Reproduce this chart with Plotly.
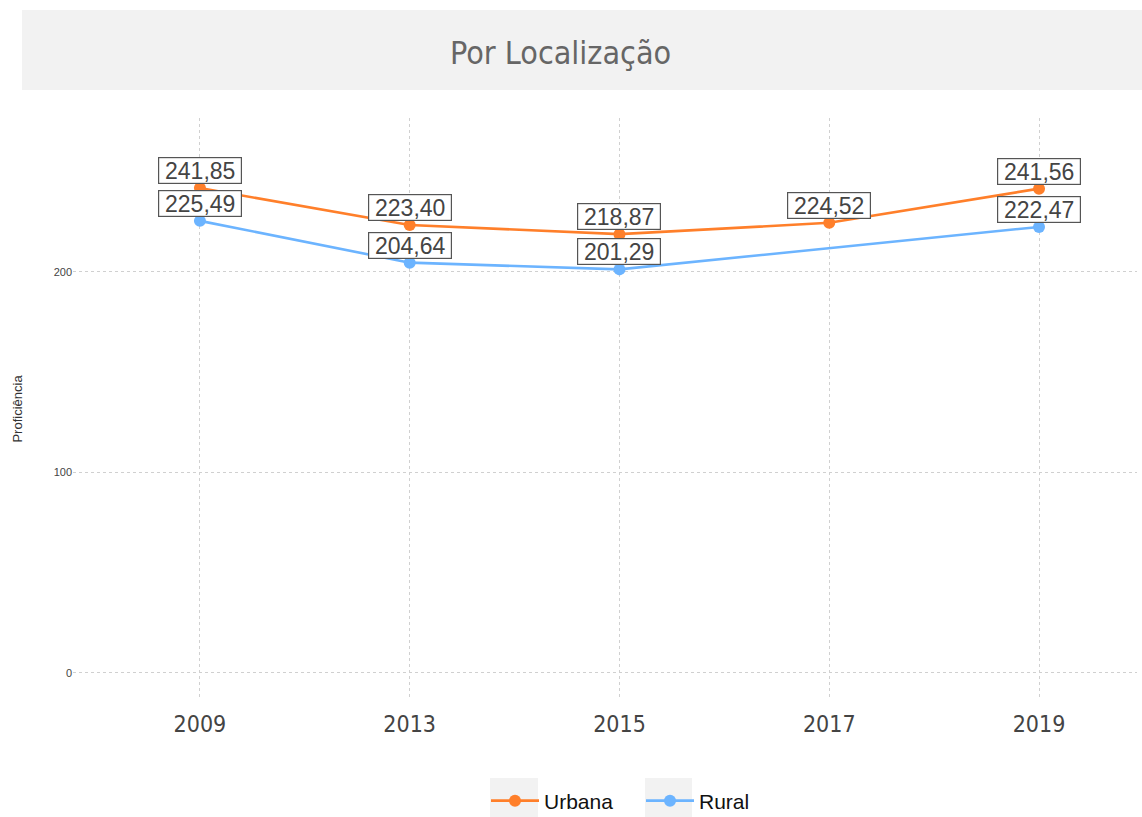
import plotly.graph_objects as go

years = ["2009", "2013", "2015", "2017", "2019"]
urbana = [241.85, 223.40, 218.87, 224.52, 241.56]
rural = [225.49, 204.64, 201.29, None, 222.47]
series_names = ["Urbana", "Rural"]
colors = ["#FF7F2A", "#6CB4FF"]
title_text = "Por Localização"
y_title = "Proficiência"
y_ticks = [0, 100, 200]

W, H = 1142, 817
L, R, T, B = 73, 5, 118, 117
PH = H - T - B
PW = W - L - R

fig = go.Figure()
for name, vals, col in zip(series_names, [urbana, rural], colors):
    fig.add_trace(go.Scatter(
        x=years, y=vals, name=name, mode="lines+markers",
        line=dict(color=col, width=2.6),
        marker=dict(color=col, size=12),
        connectgaps=True,
    ))

def fmt(v):
    return f"{v:.2f}".replace(".", ",")

annotations = []
for vals in [urbana, rural]:
    for i, v in enumerate(vals):
        if v is None:
            continue
        annotations.append(dict(
            x=i, y=v, xref="x", yref="y", text=fmt(v), showarrow=False,
            yanchor="bottom", yshift=4, width=80, height=23,
            font=dict(family="Liberation Sans, Arial, sans-serif", size=23, color="#444444"),
            bgcolor="white", bordercolor="#555555", borderwidth=1.2, borderpad=1,
        ))

def py(pix):
    return (H - B - pix) / PH

def px(pix):
    return (pix - L) / PW

annotations.append(dict(
    x=px(560), y=py(53), xref="paper", yref="paper", text=title_text,
    showarrow=False, xanchor="center", yanchor="middle",
    font=dict(family="DejaVu Sans Condensed, Liberation Sans Narrow, sans-serif", size=32, color="#666666"),
))

shapes = [
    dict(type="rect", xref="paper", yref="paper",
         x0=px(22), x1=px(1142), y0=py(90), y1=py(10),
         fillcolor="#F2F2F2", line=dict(width=0), layer="below"),
    dict(type="rect", xref="paper", yref="paper",
         x0=px(490), x1=px(538), y0=py(817), y1=py(778),
         fillcolor="#F2F2F2", line=dict(width=0), layer="below"),
    dict(type="rect", xref="paper", yref="paper",
         x0=px(645), x1=px(692), y0=py(817), y1=py(778),
         fillcolor="#F2F2F2", line=dict(width=0), layer="below"),
]

fig.update_layout(
    width=W, height=H,
    margin=dict(l=L, r=R, t=T, b=B, autoexpand=False),
    plot_bgcolor="white", paper_bgcolor="white",
    annotations=annotations, shapes=shapes,
    showlegend=True,
    legend=dict(orientation="h", x=486 / W, xref="container", xanchor="left",
                y=1 - 801 / H, yref="container", yanchor="middle",
                font=dict(family="Liberation Sans, Arial, sans-serif", size=21, color="#111111"),
                bgcolor="rgba(0,0,0,0)", entrywidth=92, itemwidth=48),
    xaxis=dict(type="category", range=[-0.605, 4.467], showgrid=True,
               gridcolor="#D0D0D0", griddash="dot", gridwidth=1,
               zeroline=False, showline=False, ticks="", ticklabelstandoff=8,
               tickfont=dict(family="Liberation Sans Narrow, DejaVu Sans Condensed, sans-serif", size=23, color="#444444")),
    yaxis=dict(range=[-13.5, 276.8], tickvals=y_ticks, showgrid=True,
               gridcolor="#D0D0D0", griddash="dot", gridwidth=1,
               zeroline=False, showline=False, ticks="",
               title=dict(text=y_title, font=dict(family="Liberation Sans, Arial, sans-serif", size=13, color="#333333"), standoff=28),
               tickfont=dict(family="Liberation Sans, Arial, sans-serif", size=11, color="#444444")),
)

fig.write_html("out.html", config={"displayModeBar": False},
               post_script="document.body.style.margin='0';document.body.style.overflow='hidden';")
